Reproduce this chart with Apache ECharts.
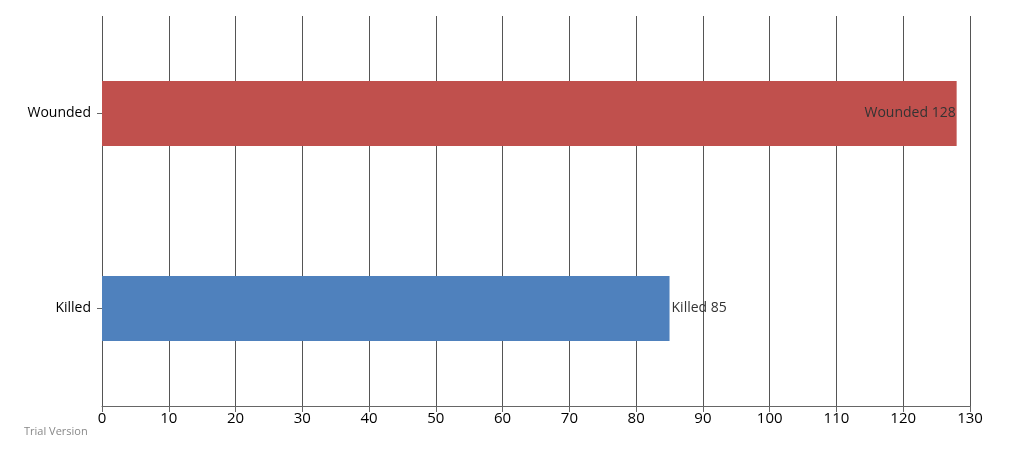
<!DOCTYPE html>
<html><head><meta charset="utf-8">
<script src="https://cdn.jsdelivr.net/npm/echarts@6/dist/echarts.min.js"></script>
<style>html,body{margin:0;padding:0;background:#fff}#c{width:1024px;height:455px}</style>
</head><body><div id="c"></div>
<script>
const categories = ['Killed', 'Wounded'];
const values = [85, 128];
const barColors = ['#4F81BD', '#C0504D'];
const xTicks = {min: 0, max: 130, interval: 10};

const chart = echarts.init(document.getElementById('c'));
chart.setOption({
  animation: false,
  grid: {left: 102, right: 54, top: 16, bottom: 49},
  graphic: [{type: 'text', left: 24, top: 426, style: {text: 'Trial Version', fill: '#888', font: '11px "Open Sans", sans-serif'}}],
  xAxis: {
    type: 'value', min: xTicks.min, max: xTicks.max, interval: xTicks.interval,
    axisLine: {show: true, lineStyle: {color: '#666', width: 1}},
    axisTick: {show: true, length: 6, lineStyle: {color: '#666'}},
    axisLabel: {color: '#000', fontSize: 15, fontFamily: '"Open Sans", sans-serif', margin: 5},
    splitLine: {show: true, lineStyle: {color: '#555', width: 1}}
  },
  yAxis: {
    type: 'category', data: categories,
    axisLine: {show: false},
    axisTick: {show: true, alignWithLabel: true, length: 5, lineStyle: {color: '#666'}},
    axisLabel: {color: '#000', fontSize: 14, fontFamily: '"Open Sans", sans-serif', margin: 11},
    splitLine: {show: false}
  },
  series: [{
    type: 'bar', barWidth: 65,
    data: values.map((v, i) => ({
      value: v,
      itemStyle: {color: barColors[i]},
      label: {
        show: true,
        position: i === 1 ? 'insideRight' : 'right',
        distance: i === 1 ? 1 : 2,
        formatter: categories[i] + ' ' + v,
        color: '#333', fontSize: 14, fontFamily: '"Open Sans", sans-serif'
      }
    }))
  }]
});
</script></body></html>
